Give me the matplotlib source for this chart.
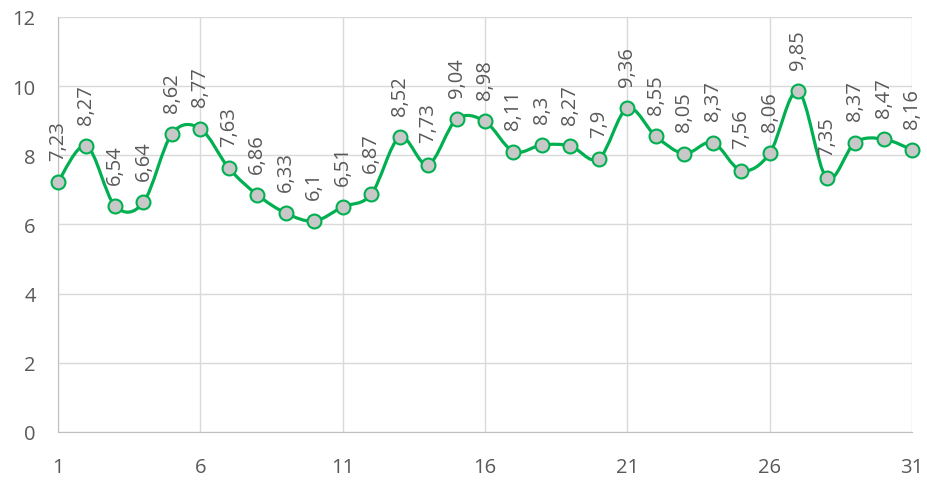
import matplotlib
matplotlib.use("Agg")
import matplotlib.pyplot as plt
from matplotlib.path import Path
import matplotlib.patches as mpatches
import numpy as np

days = list(range(1, 32))
values = [7.23, 8.27, 6.54, 6.64, 8.62, 8.77, 7.63, 6.86, 6.33, 6.1,
          6.51, 6.87, 8.52, 7.73, 9.04, 8.98, 8.11, 8.3, 8.27, 7.9,
          9.36, 8.55, 8.05, 8.37, 7.56, 8.06, 9.85, 7.35, 8.37, 8.47, 8.16]
x_ticks = [1, 6, 11, 16, 21, 26, 31]
y_ticks = [0, 2, 4, 6, 8, 10, 12]

LINE = "#00B050"
TEXT = "#595959"
GRID = "#D9D9D9"

plt.rcParams["font.family"] = ["Open Sans", "DejaVu Sans"]

fig = plt.figure(figsize=(9.28, 4.81), dpi=100)
ax = fig.add_axes([0.0625, 0.0998, 0.9203, 0.8628])

# smoothed line like Excel (Catmull-Rom as cubic bezier)
x = np.array(days, dtype=float)
y = np.array(values, dtype=float)
verts = [(x[0], y[0])]
codes = [Path.MOVETO]
n = len(x)
for i in range(n - 1):
    p0 = (x[i - 1], y[i - 1]) if i > 0 else (x[i], y[i])
    p1 = (x[i], y[i])
    p2 = (x[i + 1], y[i + 1])
    p3 = (x[i + 2], y[i + 2]) if i + 2 < n else (x[i + 1], y[i + 1])
    c1 = (p1[0] + (p2[0] - p0[0]) / 6, p1[1] + (p2[1] - p0[1]) / 6)
    c2 = (p2[0] - (p3[0] - p1[0]) / 6, p2[1] - (p3[1] - p1[1]) / 6)
    verts += [c1, c2, p2]
    codes += [Path.CURVE4] * 3
ax.add_patch(mpatches.PathPatch(Path(verts, codes), facecolor="none",
                                edgecolor=LINE, lw=2.3, zorder=3,
                                capstyle="round", joinstyle="round"))
ax.plot(x, y, ls="none", marker="o", ms=10, mfc="#C8C8C8", mec=LINE,
        mew=1.5, zorder=4, clip_on=False)

for xi, yi in zip(days, values):
    lbl = f"{yi:g}".replace(".", ",")
    ax.annotate(lbl, (xi, yi), xytext=(0, 16), textcoords="offset points",
                rotation=90, ha="center", va="bottom", fontsize=14.5,
                color=TEXT, zorder=5, annotation_clip=False)

ax.set_xlim(1, 31)
ax.set_ylim(0, 12)
ax.set_xticks(x_ticks)
ax.set_yticks(y_ticks)
ax.grid(True, color=GRID, lw=1)
ax.set_axisbelow(True)
for side in ["top", "right"]:
    ax.spines[side].set_visible(False)
for side in ["left", "bottom"]:
    ax.spines[side].set_color("#BFBFBF")
ax.tick_params(length=0, labelsize=14.5, labelcolor=TEXT)
ax.tick_params(axis="y", pad=16)
ax.tick_params(axis="x", pad=18)

fig.savefig("out.png", dpi=100)
